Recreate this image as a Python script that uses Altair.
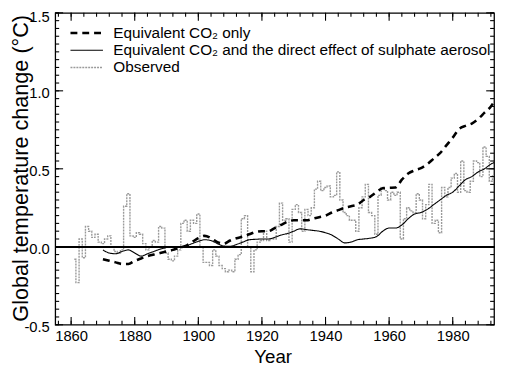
import altair as alt
import pandas as pd

# ---------------- data ----------------
obs_years = list(range(1861, 1994))
obs_values = [
    -0.08, -0.23, 0.05, -0.07, 0.13, 0.10, 0.06, 0.08, 0.03,            # 1861-1869
    0.02, 0.05, 0.07, 0.00, -0.03, -0.04, -0.02, 0.26, 0.34, 0.07,       # 1870s
    0.06, 0.09, 0.08, 0.02, -0.02, 0.00, 0.04, 0.03, 0.13, 0.12,         # 1880s
    -0.04, -0.08, -0.09, -0.06, -0.02, 0.15, 0.17, 0.10, 0.17, 0.15,     # 1890s
    0.21, 0.00, -0.10, -0.10, -0.12, -0.02, -0.06, -0.12, -0.14, -0.16,  # 1900s
    -0.15, -0.16, -0.08, -0.05, 0.18, 0.20, 0.00, -0.16, -0.02, 0.03,    # 1910s
    0.04, 0.10, 0.04, 0.05, 0.05, 0.13, 0.28, 0.17, 0.18, 0.03,          # 1920s
    0.24, 0.27, 0.22, 0.10, 0.24, 0.20, 0.25, 0.37, 0.42, 0.36,          # 1930s
    0.38, 0.39, 0.32, 0.33, 0.48, 0.30, 0.22, 0.20, 0.17, 0.17,          # 1940s
    0.10, 0.25, 0.32, 0.40, 0.22, 0.20, 0.08, 0.33, 0.38, 0.36,          # 1950s
    0.30, 0.35, 0.33, 0.35, 0.05, 0.18, 0.25, 0.23, 0.22, 0.34,          # 1960s
    0.30, 0.18, 0.27, 0.40, 0.15, 0.17, 0.09, 0.38, 0.32, 0.38,          # 1970s
    0.44, 0.47, 0.35, 0.55, 0.36, 0.35, 0.42, 0.55, 0.54, 0.45,          # 1980s
    0.64, 0.58, 0.42, 0.46,                                              # 1990-1993
]

model_years = list(range(1870, 1993, 2)) + [1993]
co2_only = [
    -0.08, -0.09, -0.10, -0.11, -0.11,          # 1870-1878
    -0.09, -0.075, -0.06, -0.05, -0.04,         # 1880-1888
    -0.03, -0.02, -0.005, 0.005, 0.03,          # 1890-1898
    0.055, 0.07, 0.055, 0.03, 0.02,             # 1900-1908
    0.04, 0.055, 0.065, 0.08, 0.095,            # 1910-1918
    0.10, 0.10, 0.12, 0.14, 0.16,               # 1920-1928
    0.17, 0.17, 0.17, 0.18, 0.19,               # 1930-1938
    0.20, 0.22, 0.235, 0.25, 0.26,              # 1940-1948
    0.27, 0.30, 0.32, 0.35, 0.375,              # 1950-1958
    0.378, 0.38, 0.43, 0.47, 0.49,              # 1960-1968
    0.505, 0.53, 0.565, 0.60, 0.65,             # 1970-1978
    0.70, 0.755, 0.775, 0.79, 0.82,             # 1980-1988
    0.86, 0.90, 0.93,                           # 1990, 1992, 1993
]
co2_sulphate = [
    -0.02, -0.04, -0.045, -0.03, -0.02,         # 1870-1878
    -0.04, -0.06, -0.045, -0.03, -0.015,        # 1880-1888
    -0.005, 0.0, 0.0, 0.005, 0.02,              # 1890-1898
    0.035, 0.045, 0.04, 0.02, 0.005,            # 1900-1908
    0.003, 0.015, 0.03, 0.045, 0.048,           # 1910-1918
    0.05, 0.05, 0.06, 0.075, 0.085,             # 1920-1928
    0.10, 0.115, 0.11, 0.105, 0.10,             # 1930-1938
    0.09, 0.075, 0.05, 0.025, 0.03,             # 1940-1948
    0.045, 0.05, 0.055, 0.065, 0.10,            # 1950-1958
    0.12, 0.12, 0.14, 0.18, 0.21,               # 1960-1968
    0.22, 0.24, 0.27, 0.30, 0.33,               # 1970-1978
    0.35, 0.39, 0.43, 0.45, 0.48,               # 1980-1988
    0.50, 0.53, 0.54,                           # 1990, 1992, 1993
]

S1 = "Equivalent CO₂ only"
S2 = "Equivalent CO₂ and the direct effect of sulphate aerosol"
S3 = "Observed"
series_order = [S1, S2, S3]

x_major = [1860, 1880, 1900, 1920, 1940, 1960, 1980]
x_minor = list(range(1856, 1993, 4))
y_major = [-0.5, 0.0, 0.5, 1.0, 1.5]
y_minor = [round(-0.5 + 0.05 * i, 2) for i in range(41)]

obs_df = pd.DataFrame({"year": obs_years, "value": obs_values, "series": S3})
co2_df = pd.DataFrame({"year": model_years, "value": co2_only, "series": S1})
sul_df = pd.DataFrame({"year": model_years, "value": co2_sulphate, "series": S2})

# ---------------- styling ----------------
FONT = "Liberation Sans"
W, H = 446, 317
X0, X1 = 1855, 1993
Y0, Y1 = -0.5, 1.5
xscale = alt.Scale(domain=[X0, X1], nice=False, zero=False)
yscale = alt.Scale(domain=[Y0, Y1], nice=False, zero=False)

color = alt.Color(
    "series:N",
    scale=alt.Scale(domain=series_order, range=["black", "black", "#9a9a9a"]),
    legend=alt.Legend(title=None),
)
dash = alt.StrokeDash(
    "series:N",
    scale=alt.Scale(domain=series_order, range=[[7, 5], [1, 0], [2, 1]]),
    legend=alt.Legend(title=None),
)
swidth = alt.StrokeWidth(
    "series:N",
    scale=alt.Scale(type="ordinal", domain=series_order, range=[2.6, 1.1, 1.4]),
    legend=alt.Legend(title=None),
)

xaxis_main = alt.Axis(
    values=x_major, format="d", ticks=False, tickSize=0, domain=False, grid=False,
    labelFont=FONT, labelFontSize=15, labelColor="black", labelPadding=4,
    title="Year", titleFont=FONT, titleFontSize=19, titleFontWeight="normal",
    titleColor="black", titleX=221, titleY=38, titleBaseline="alphabetic",
)
yaxis_main = alt.Axis(
    values=y_major, ticks=False, tickSize=0, domain=False, grid=False,
    labelExpr="replace(format(datum.value, '.1f'), '\u2212', '-')",
    labelFont=FONT, labelFontSize=15, labelColor="black", labelPadding=6,
    labelOffset={"condition": {"test": "datum.value > 1.4", "value": 4}, "value": 1.5},
    title="Global temperature change (°C)", titleFont=FONT, titleFontSize=22,
    titleFontWeight="normal", titleColor="black", titleX=-35, titleY=H / 2 - 1,
    titleAngle=270, titleAlign="center", titleBaseline="middle",
)

obs = alt.Chart(obs_df).mark_line(interpolate="step", clip=True).encode(
    x=alt.X("year:Q", scale=xscale, axis=xaxis_main),
    y=alt.Y("value:Q", scale=yscale, axis=yaxis_main),
    color=color, strokeDash=dash, strokeWidth=swidth,
)
sul = alt.Chart(sul_df).mark_line(interpolate="monotone", clip=True).encode(
    x=alt.X("year:Q", scale=xscale, axis=None),
    y=alt.Y("value:Q", scale=yscale, axis=None),
    color=color, strokeDash=dash, strokeWidth=swidth,
)
co2 = alt.Chart(co2_df).mark_line(interpolate="monotone", clip=True).encode(
    x=alt.X("year:Q", scale=xscale, axis=None),
    y=alt.Y("value:Q", scale=yscale, axis=None),
    color=color, strokeDash=dash, strokeWidth=swidth,
)
zero = alt.Chart(obs_df).mark_rule(color="black", strokeWidth=1.5).encode(
    y=alt.Y(datum=0, scale=yscale, axis=None),
)

# inward frame ticks: lengths given in pixels, converted to data units of each scale
Y_PER_PX = (Y1 - Y0) / H
X_PER_PX = (X1 - X0) / W


def xtick_layer(values, edge, px):
    d = pd.DataFrame({"year": values})
    d["ya"] = edge
    d["yb"] = edge + px * Y_PER_PX
    return alt.Chart(d).mark_rule(color="black", strokeWidth=1.1).encode(
        x=alt.X("year:Q", scale=xscale, axis=None),
        y=alt.Y("ya:Q", scale=yscale, axis=None),
        y2="yb:Q",
    )


def ytick_layer(values, edge, px):
    d = pd.DataFrame({"tick": values})
    d["xa"] = edge
    d["xb"] = edge + px * X_PER_PX
    return alt.Chart(d).mark_rule(color="black", strokeWidth=1.1).encode(
        x=alt.X("xa:Q", scale=xscale, axis=None),
        x2="xb:Q",
        y=alt.Y("tick:Q", scale=yscale, axis=None),
    )


ticks = [
    xtick_layer(x_minor, Y0, 4), xtick_layer(x_minor, Y1, -4),
    xtick_layer(x_major, Y0, 8), xtick_layer(x_major, Y1, -8),
    ytick_layer(y_minor, X0, 4), ytick_layer(y_minor, X1, -4),
    ytick_layer(y_major, X0, 8), ytick_layer(y_major, X1, -8),
]

chart = alt.layer(obs, sul, co2, zero, *ticks).resolve_axis(
    x="independent", y="independent"
).properties(
    width=W, height=H,
    padding={"left": 48, "top": 2, "right": 4, "bottom": 40},
    autosize=alt.AutoSizeParams(type="none"),
    background="white",
).configure_view(
    stroke="black", strokeWidth=1.3,
).configure_legend(
    orient="none", legendX=14, legendY=12.5, padding=0,
    symbolType="stroke", symbolSize=1089, labelOffset=9, rowPadding=0.5, clipHeight=16,
    labelFont=FONT, labelFontSize=15.6, labelColor="black", labelLimit=500,
)

chart.save("out.html", embed_options={"renderer": "svg", "actions": False})
